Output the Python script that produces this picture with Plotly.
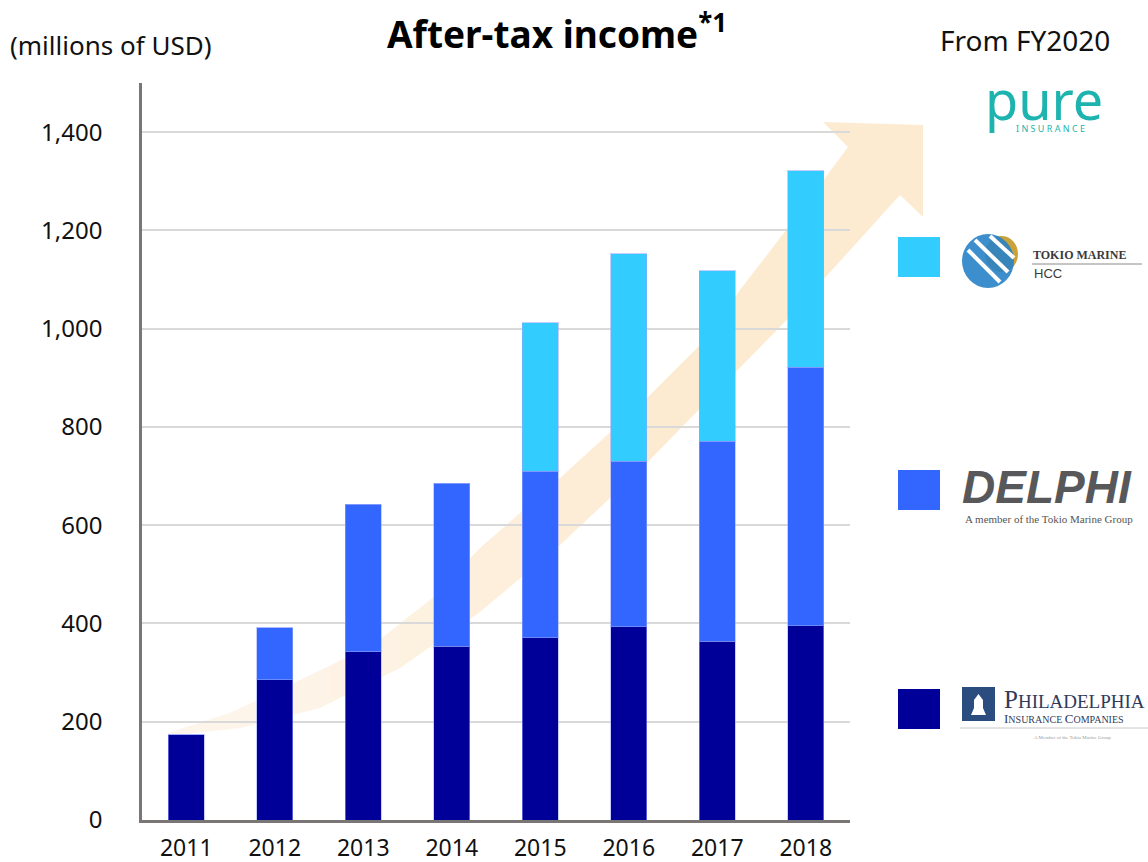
import plotly.graph_objects as go

# ---------------- data ----------------
years = ["2011", "2012", "2013", "2014", "2015", "2016", "2017", "2018"]
philadelphia = [174, 285, 342, 354, 371, 393, 364, 395]
delphi = [0, 106, 301, 331, 339, 337, 407, 526]
tokio_hcc = [0, 0, 0, 0, 302, 422, 347, 400]
y_ticks = [0, 200, 400, 600, 800, 1000, 1200, 1400]
y_tick_labels = ["0", "200", "400", "600", "800", "1,000", "1,200", "1,400"]

C_DARK = "#000099"
C_MID = "#3366FF"
C_LIGHT = "#33CCFF"

# ---------------- layout geometry (pixels) ----------------
W, H = 1148, 862
L, R, T, B = 142, 298, 83, 42
PW = W - L - R
PH = H - T - B


def px(x):
    return (x - L) / PW


def py(y):
    return (H - B - y) / PH


FONT = "Noto Sans"

fig = go.Figure()
edge = dict(color="rgba(150,165,255,0.55)", width=1)
fig.add_trace(go.Bar(x=years, y=philadelphia, marker=dict(color=C_DARK, line=edge), name="Philadelphia"))
fig.add_trace(go.Bar(x=years, y=delphi, marker=dict(color=C_MID, line=edge), name="Delphi"))
fig.add_trace(go.Bar(x=years, y=tokio_hcc, marker=dict(color=C_LIGHT, line=edge), name="Tokio Marine HCC"))

shapes = []
annotations = []

# ---------------- background arrow (decoration) ----------------
upper = [(168, 733), (230, 713), (300, 680), (373, 645), (430, 600), (480, 548),
         (560, 478), (640, 405), (700, 345), (740, 290), (800, 212), (848, 147)]
head = [(823, 122), (923, 125), (923, 217), (900, 195)]
lower = [(823, 280), (780, 327), (720, 388), (640, 470), (560, 545), (480, 612),
         (400, 668), (320, 708), (240, 728), (168, 736)]
pts = upper + head + lower
path = "M " + " L ".join(f"{px(x):.5f},{py(y):.5f}" for x, y in pts) + " Z"
shapes.append(dict(type="path", path=path, xref="paper", yref="paper",
                   fillcolor="rgba(252,216,166,0.52)", line=dict(width=0), layer="below"))
# fade toward the lower-left end
for xe in [260, 330, 400, 470, 540, 610]:
    shapes.append(dict(type="rect", xref="paper", yref="paper", x0=px(142), x1=px(xe),
                       y0=0, y1=1, fillcolor="rgba(255,255,255,0.13)", line=dict(width=0),
                       layer="below"))

# ---------------- legend squares ----------------
for (y0, y1, col) in [(237, 277, C_LIGHT), (470, 510, C_MID), (689, 729, C_DARK)]:
    shapes.append(dict(type="rect", xref="paper", yref="paper",
                       x0=px(898), x1=px(940), y0=py(y1), y1=py(y0),
                       fillcolor=col, line=dict(width=0)))

# ---------------- Tokio Marine HCC logo ----------------
shapes.append(dict(type="circle", xref="paper", yref="paper",
                   x0=px(985), x1=px(1018), y0=py(272), y1=py(236),
                   fillcolor="#C9A23A", line=dict(width=0)))
shapes.append(dict(type="circle", xref="paper", yref="paper",
                   x0=px(962), x1=px(1014), y0=py(288), y1=py(234),
                   fillcolor="rgba(40,130,200,0.9)", line=dict(width=0)))
for (a, b) in [((968, 250), (1000, 282)), ((975, 240), (1008, 272)), ((990, 236), (1014, 258))]:
    shapes.append(dict(type="line", xref="paper", yref="paper",
                       x0=px(a[0]), y0=py(a[1]), x1=px(b[0]), y1=py(b[1]),
                       line=dict(color="white", width=4)))
shapes.append(dict(type="line", xref="paper", yref="paper",
                   x0=px(1032), x1=px(1142), y0=py(264), y1=py(264),
                   line=dict(color="#8A8A8A", width=1)))
annotations.append(dict(text="<b>TOKIO MARINE</b>", x=px(1031), y=py(255), xref="paper", yref="paper",
                        xanchor="left", yanchor="middle", showarrow=False,
                        font=dict(family="Liberation Serif", size=12, color="#3A3A3A")))
annotations.append(dict(text="HCC", x=px(1032), y=py(273), xref="paper", yref="paper",
                        xanchor="left", yanchor="middle", showarrow=False,
                        font=dict(family="Liberation Sans", size=13, color="#3A3A3A")))

# ---------------- DELPHI logo ----------------
annotations.append(dict(text="<b><i>DELPHI</i></b>", x=px(960), y=py(487), xref="paper", yref="paper",
                        xanchor="left", yanchor="middle", showarrow=False,
                        font=dict(family="Liberation Sans", size=46, color="#58585A")))
annotations.append(dict(text="A member of the Tokio Marine Group", x=px(963), y=py(519), xref="paper",
                        yref="paper", xanchor="left", yanchor="middle", showarrow=False,
                        font=dict(family="Liberation Serif", size=11, color="#555555")))

# ---------------- Philadelphia logo ----------------
shapes.append(dict(type="rect", xref="paper", yref="paper",
                   x0=px(962), x1=px(995), y0=py(721), y1=py(687),
                   fillcolor="#2B4C7E", line=dict(width=0)))
bell = [(971, 715), (986, 715), (983, 708), (983, 700), (978.5, 694), (974, 700), (974, 708)]
bpath = "M " + " L ".join(f"{px(x):.5f},{py(y):.5f}" for x, y in bell) + " Z"
shapes.append(dict(type="path", path=bpath, xref="paper", yref="paper",
                   fillcolor="white", line=dict(width=0)))
shapes.append(dict(type="line", xref="paper", yref="paper",
                   x0=px(960), x1=px(1148), y0=py(728), y1=py(728),
                   line=dict(color="#C8C8C8", width=1)))
annotations.append(dict(text="P<span style='font-size:19px'>HILADELPHIA</span>", x=px(1002), y=py(699),
                        xref="paper", yref="paper", xanchor="left", yanchor="middle", showarrow=False,
                        font=dict(family="Liberation Serif", size=25, color="#2F3B5C")))
annotations.append(dict(text="I<span style='font-size:10px'>NSURANCE </span>C<span style='font-size:10px'>OMPANIES</span>",
                        x=px(1002), y=py(718), xref="paper", yref="paper", xanchor="left",
                        yanchor="middle", showarrow=False,
                        font=dict(family="Liberation Serif", size=13, color="#2F3B5C")))
annotations.append(dict(text="A Member of the Tokio Marine Group", x=px(1032), y=py(737), xref="paper",
                        yref="paper", xanchor="left", yanchor="middle", showarrow=False,
                        font=dict(family="Liberation Serif", size=5, color="#9A9A9A")))

# ---------------- PURE logo ----------------
annotations.append(dict(text="pure", x=px(1044), y=py(99), xref="paper", yref="paper",
                        xanchor="center", yanchor="middle", showarrow=False,
                        font=dict(family="Noto Sans", size=54, color="#1DB3AE")))
annotations.append(dict(text="I N S U R A N C E", x=px(1050), y=py(128), xref="paper", yref="paper",
                        xanchor="center", yanchor="middle", showarrow=False,
                        font=dict(family="Noto Sans", size=9, color="#1DB3AE")))

# ---------------- titles ----------------
annotations.append(dict(text="<b>After-tax income<sup>*1</sup></b>", x=px(557), y=py(31), xref="paper",
                        yref="paper", xanchor="center", yanchor="middle", showarrow=False,
                        font=dict(family=FONT, size=37, color="black")))
annotations.append(dict(text="(millions of USD)", x=px(8), y=py(45), xref="paper", yref="paper",
                        xanchor="left", yanchor="middle", showarrow=False,
                        font=dict(family=FONT, size=26, color="#111111")))
annotations.append(dict(text="From FY2020", x=px(1025), y=py(40), xref="paper", yref="paper",
                        xanchor="center", yanchor="middle", showarrow=False,
                        font=dict(family=FONT, size=28, color="#111111")))

fig.update_layout(
    width=W, height=H,
    barmode="stack", bargap=0.59,
    plot_bgcolor="white", paper_bgcolor="white",
    margin=dict(l=L, r=R, t=T, b=B, autoexpand=False),
    showlegend=False,
    shapes=shapes, annotations=annotations,
    font=dict(family=FONT, size=24, color="#111111"),
)
fig.update_xaxes(type="category", range=[-0.5, 7.5], showline=True, linecolor="#7A7676", linewidth=2.5,
                 showgrid=False, ticks="", tickfont=dict(size=23), ticklabelstandoff=6)
fig.update_yaxes(range=[0, 1500], tickvals=y_ticks, ticktext=y_tick_labels, showline=True,
                 linecolor="#7A7676", linewidth=2.5, showgrid=True, gridcolor="#D9D9D9", gridwidth=1.5,
                 zeroline=False, ticks="", tickfont=dict(size=24), ticklabelstandoff=32)

fig.write_html("out.html", config={"displayModeBar": False},
               post_script="document.body.style.margin='0';document.body.style.overflow='hidden';")
